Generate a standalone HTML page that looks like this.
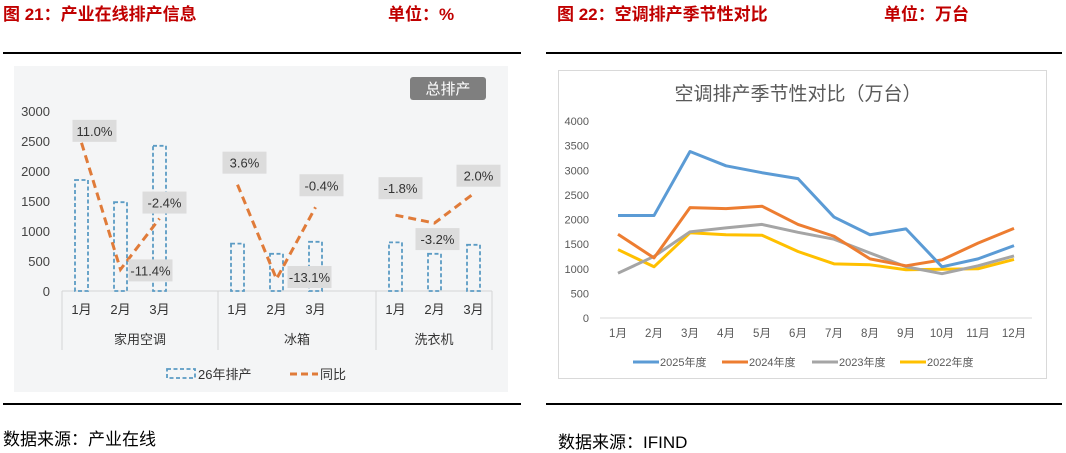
<!DOCTYPE html>
<html><head><meta charset="utf-8">
<style>
body{margin:0;width:1066px;height:448px;background:#fff;position:relative;overflow:hidden;font-family:"Liberation Sans","Noto Sans CJK SC",sans-serif;}
.t{position:absolute;color:#c00000;font-weight:bold;font-size:17px;top:0px;white-space:nowrap;}
.hr{position:absolute;height:1.5px;background:#000;}
.src{position:absolute;font-size:17px;color:#000;white-space:nowrap;}
</style></head><body>
<div class="t" style="left:3px">图 21：产业在线排产信息</div>
<div class="t" style="left:388px">单位：%</div>
<div class="t" style="left:557px">图 22：空调排产季节性对比</div>
<div class="t" style="left:884px">单位：万台</div>
<div class="hr" style="left:3px;width:518px;top:52px"></div>
<div class="hr" style="left:546px;width:516px;top:52px"></div>
<div class="hr" style="left:3px;width:518px;top:403px"></div>
<div class="hr" style="left:546px;width:516px;top:403px"></div>
<div class="src" style="left:3px;top:425px">数据来源：产业在线</div>
<div class="src" style="left:558px;top:428px">数据来源：IFIND</div>

<svg id="c1" width="1066" height="448" style="position:absolute;left:0;top:0"></svg>
<script>
const groups=["家用空调","冰箱","洗衣机"];
const months=["1月","2月","3月"];
const prod=[[1850,1480,2420],[790,620,820],[810,620,770]];
const yoy=[[11.0,-11.4,-2.4],[3.6,-13.1,-0.4],[-1.8,-3.2,2.0]];
const yoyLabels=[["11.0%","-11.4%","-2.4%"],["3.6%","-13.1%","-0.4%"],["-1.8%","-3.2%","2.0%"]];
const yTicks=[0,500,1000,1500,2000,2500,3000];
(function(){
const s=document.getElementById('c1'),NS="http://www.w3.org/2000/svg";
function el(t,a,p){const e=document.createElementNS(NS,t);for(const k in a)e.setAttribute(k,a[k]);(p||s).appendChild(e);return e;}
const y=v=>291-v*180/3000, y2=v=>205-v*5.65;
const gx=[62,218,376,492];
const bc=(g,i)=>gx[g]+19.5+i*39;
const bg=el('rect',{x:14,y:66,width:494,height:326,fill:'#f4f5f6'});

yTicks.forEach(v=>{const t=el('text',{x:50,y:y(v)+5,'text-anchor':'end','font-size':13,fill:'#444'});t.textContent=v;
});
const ax=el('line',{x1:62,x2:492,y1:291,y2:291,stroke:'#d5d5d5','stroke-width':1});

gx.forEach(x=>{const l=el('line',{x1:x,x2:x,y1:291,y2:350,stroke:'#d5d5d5'});});
const boxPos=[[[13,-12],[30,1],[5,-16]],[[7,-22],[33,-2],[6,-22]],[[5,-27],[3,16],[5,-18]]];
groups.forEach((g,gi)=>{
  const gl=el('text',{x:(gx[gi]+gx[gi+1])/2,y:344,'text-anchor':'middle','font-size':13,fill:'#333'});gl.textContent=g;
  
  let pts=[];
  months.forEach((m,i)=>{
    const cx=bc(gi,i);
    const b=el('rect',{x:cx-6.5,y:y(prod[gi][i]),width:13,height:291-y(prod[gi][i]),fill:'none',stroke:'#5b9bc4','stroke-width':1.8,'stroke-dasharray':'4,2.5'});
    
    const ml=el('text',{x:cx,y:314,'text-anchor':'middle','font-size':13,fill:'#333'});ml.textContent=m;
    
    pts.push([cx,y2(yoy[gi][i])]);
  });
  const pl=el('polyline',{points:pts.map(p=>p.join(',')).join(' '),fill:'none',stroke:'#e07b39','stroke-width':3,'stroke-dasharray':'8,5'});
  
  pts.forEach((p,i)=>{
    const [dx,dy]=boxPos[gi][i];const cx=p[0]+dx,cy=p[1]+dy;
    const r=el('rect',{x:cx-22,y:cy-11,width:44,height:22,fill:'#dcdcdc'});
    
    const t=el('text',{x:cx,y:cy+5,'text-anchor':'middle','font-size':13,fill:'#333'});t.textContent=yoyLabels[gi][i];
    
  });
});
const tb=el('rect',{x:410,y:77,width:76,height:23,rx:3,fill:'#7f7f7f'});

const tt=el('text',{x:448,y:94,'text-anchor':'middle','font-size':15,fill:'#fff'});tt.textContent='总排产';

const lb=el('rect',{x:167,y:369,width:28,height:9,fill:'none',stroke:'#5b9bc4','stroke-width':1.8,'stroke-dasharray':'4,2.5'});

const lt=el('text',{x:198,y:379,'font-size':13,fill:'#333'});lt.textContent='26年排产';

const ll=el('line',{x1:290,x2:318,y1:374,y2:374,stroke:'#e07b39','stroke-width':3,'stroke-dasharray':'7,4'});

const lt2=el('text',{x:320,y:379,'font-size':13,fill:'#333'});lt2.textContent='同比';

})();
</script>

<svg id="c2" width="1066" height="448" style="position:absolute;left:0;top:0"></svg>
<script>
const mlabels=["1月","2月","3月","4月","5月","6月","7月","8月","9月","10月","11月","12月"];
const years=["2025年度","2024年度","2023年度","2022年度"];
const s2025=[2080,2080,3380,3090,2950,2830,2050,1690,1810,1040,1200,1470];
const s2024=[1700,1220,2240,2220,2270,1900,1660,1200,1060,1180,1520,1820];
const s2023=[910,1250,1750,1830,1900,1740,1600,1320,1040,900,1060,1260];
const s2022=[1390,1040,1730,1690,1680,1350,1100,1080,980,990,1000,1190];
const ticks2=[0,500,1000,1500,2000,2500,3000,3500,4000];
(function(){
const s=document.getElementById('c2'),NS="http://www.w3.org/2000/svg";
function el(t,a){const e=document.createElementNS(NS,t);for(const k in a)e.setAttribute(k,a[k]);s.appendChild(e);return e;}
const y=v=>318-v*197/4000, x=i=>618+i*36;
const fr=el('rect',{x:558.5,y:70.5,width:488,height:308,fill:'#fff',stroke:'#d9d9d9'});

const ti=el('text',{x:798,y:100,'text-anchor':'middle','font-size':19,fill:'#595959'});ti.textContent='空调排产季节性对比（万台）';

ticks2.forEach(v=>{const t=el('text',{x:589,y:y(v)+4,'text-anchor':'end','font-size':11,fill:'#595959'});t.textContent=v;
});
const ax=el('line',{x1:600,x2:1032,y1:318,y2:318,stroke:'#d9d9d9'});

mlabels.forEach((m,i)=>{const t=el('text',{x:x(i),y:337,'text-anchor':'middle','font-size':11.5,fill:'#595959'});t.textContent=m;
});
const series=[s2025,s2024,s2023,s2022],cols=['#5b9bd5','#ed7d31','#a5a5a5','#ffc000'];
[3,2,1,0].forEach(k=>{const p=el('polyline',{points:series[k].map((v,i)=>x(i)+','+y(v)).join(' '),fill:'none',stroke:cols[k],'stroke-width':3,'stroke-linejoin':'round'});
});
const lx=[633,722,812,900];
years.forEach((yr,k)=>{const l=el('line',{x1:lx[k],x2:lx[k]+26,y1:362,y2:362,stroke:cols[k],'stroke-width':3});

const t=el('text',{x:lx[k]+27,y:366,'font-size':11,fill:'#595959'});t.textContent=yr;
});
})();
</script>
</body></html>
